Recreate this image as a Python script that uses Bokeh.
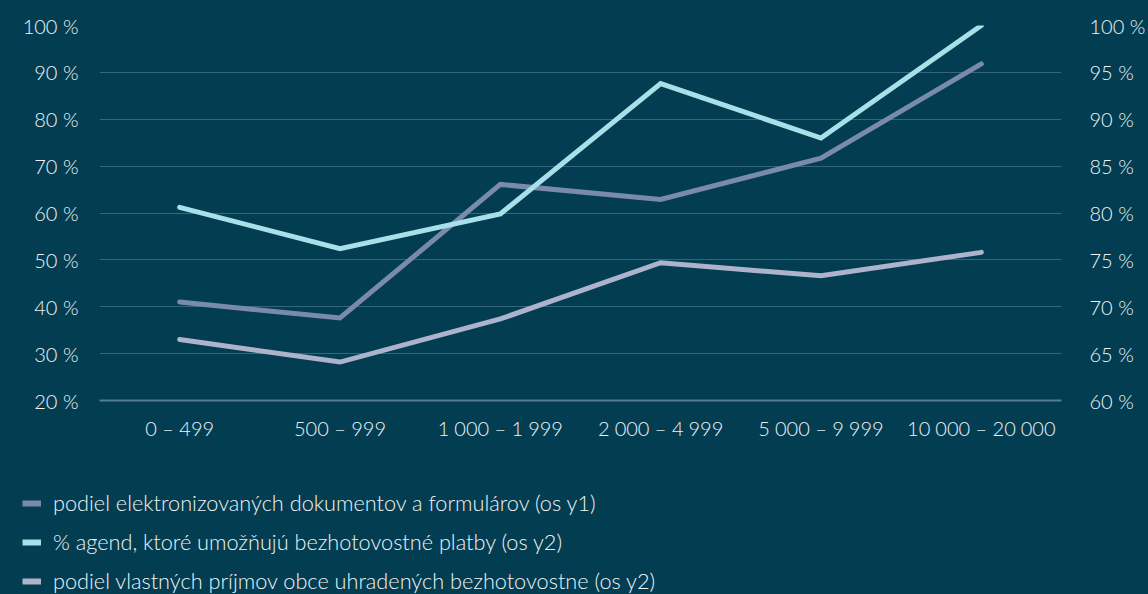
from bokeh.plotting import figure
from bokeh.layouts import column
from bokeh.models import (FactorRange, Range1d, LinearAxis, FixedTicker,
                          CustomJSTickFormatter, Legend, LegendItem)
from bokeh.embed import file_html
from bokeh.resources import INLINE

categories = ["0 \u2013 499", "500 \u2013 999", "1\u202f000 \u2013 1\u202f999",
              "2\u202f000 \u2013 4\u202f999", "5\u202f000 \u2013 9\u202f999",
              "10\u202f000 \u2013 20\u202f000"]
# y1 axis (left)
elektronizovane = [41.0, 37.6, 66.1, 62.9, 71.7, 91.8]
# y2 axis (right)
agendy_bezhotovostne = [80.6, 76.2, 79.9, 93.8, 88.0, 100.0]
prijmy_bezhotovostne = [66.5, 64.1, 68.7, 74.7, 73.3, 75.8]

labels = ["podiel elektronizovaných dokumentov a formulárov (os y1)",
          "% agend, ktoré umožňujú bezhotovostné platby (os y2)",
          "podiel vlastných príjmov obce uhradených bezhotovostne (os y2)"]
colors = ["#7a8aa9", "#a9dfe9", "#adb3cb"]
left_ticks = [20, 30, 40, 50, 60, 70, 80, 90, 100]
right_ticks = [60, 65, 70, 75, 80, 85, 90, 95, 100]

BG = "#033d51"
TXT = "#eef3f5"
FONT = "Lato Light, Lato"
BG_STYLE = {"background-color": BG}

p = figure(x_range=FactorRange(*categories), y_range=Range1d(20, 100),
           width=1148, height=460,
           output_backend="svg", toolbar_location=None,
           min_border_left=99, min_border_right=86, min_border_top=25,
           min_border_bottom=60, styles=BG_STYLE)
p.extra_y_ranges = {"y2": Range1d(60, 100)}
p.background_fill_color = BG
p.border_fill_color = None
p.outline_line_color = None

fmt = CustomJSTickFormatter(code="return tick + ' %';")

yax = p.yaxis[0]
yax.ticker = FixedTicker(ticks=left_ticks)
yax.formatter = fmt
rax = LinearAxis(y_range_name="y2", ticker=FixedTicker(ticks=right_ticks), formatter=fmt)
p.add_layout(rax, "right")

for ax in [yax, rax]:
    ax.axis_line_color = None
    ax.major_tick_line_color = None
    ax.minor_tick_line_color = None
    ax.major_label_text_color = TXT
    ax.major_label_text_font = FONT
    ax.major_label_text_font_size = "20px"
yax.major_label_standoff = 15
rax.major_label_standoff = 22

xax = p.xaxis[0]
xax.axis_line_color = "#567d96"
xax.axis_line_width = 2
xax.major_tick_line_color = None
xax.minor_tick_line_color = None
xax.major_label_text_color = TXT
xax.major_label_text_font = FONT
xax.major_label_text_font_size = "20px"
xax.major_label_standoff = 9

p.xgrid.grid_line_color = None
p.ygrid.grid_line_color = "#36667e"
p.ygrid.grid_line_width = 1
p.ygrid.ticker = FixedTicker(ticks=left_ticks)

p.line(categories, elektronizovane, line_color=colors[0], line_width=5,
       line_cap="round", line_join="miter")
p.line(categories, agendy_bezhotovostne, line_color=colors[1], line_width=5,
       line_cap="round", line_join="miter", y_range_name="y2")
p.line(categories, prijmy_bezhotovostne, line_color=colors[2], line_width=5,
       line_cap="round", line_join="miter", y_range_name="y2")

# legend panel below the chart
lg = figure(width=1148, height=134, x_range=Range1d(0, 1), y_range=Range1d(0, 1),
            output_backend="svg", toolbar_location=None,
            x_axis_location=None, y_axis_location=None,
            min_border_left=0, min_border_right=0, min_border_top=0,
            min_border_bottom=0, styles=BG_STYLE)
lg.background_fill_color = None
lg.border_fill_color = None
lg.outline_line_color = None
lg.xgrid.visible = False
lg.ygrid.visible = False

if "frame_align" in lg.properties():
    lg.frame_align = False
    p.frame_align = False

nan = float("nan")
items = []
for lab, c in zip(labels, colors):
    r = lg.line(x=[nan], y=[nan], line_color=c, line_width=6, line_cap="butt")
    items.append(LegendItem(label=lab, renderers=[r]))

legend = Legend(items=items, location=(22, 0), orientation="vertical",
                padding=0, margin=0, spacing=13, label_height=26, glyph_height=26,
                glyph_width=19, label_standoff=12,
                label_text_font=FONT, label_text_font_size="21.7px",
                label_text_color=TXT, background_fill_alpha=0,
                border_line_color=None)
lg.add_layout(legend, "center")

layout = column(p, lg, spacing=0, styles=BG_STYLE)
html = file_html(layout, INLINE)
html = html.replace("<body>", '<body style="background:%s">' % BG, 1)
open("out.html", "w").write(html)
